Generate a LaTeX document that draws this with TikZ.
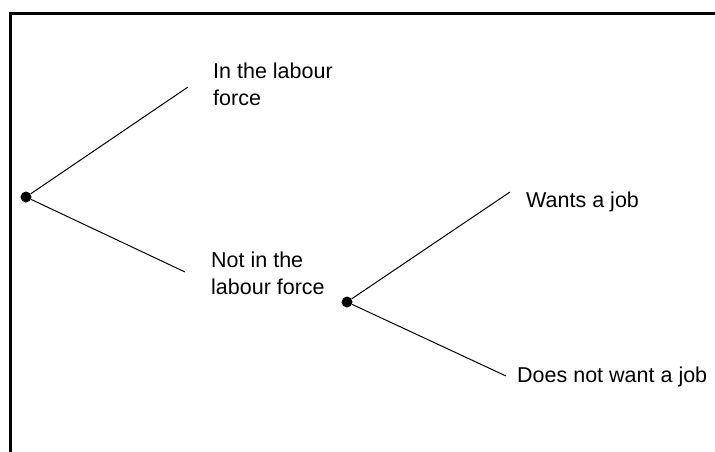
\documentclass[tikz,border=0pt]{standalone}
\usepackage{fontspec}
\setmainfont{Liberation Sans}
\begin{document}
\begin{tikzpicture}[x=1pt,y=-1pt,
  dotnode/.style={circle,fill=black,inner sep=0pt,minimum size=11pt},
  endpt/.style={inner sep=0pt,minimum size=0pt},
  branch/.style={line width=1pt},
  lbl/.style={inner sep=0pt,anchor=base west,align=left,font=\fontsize{21.5}{27}\selectfont},
  frame/.style={line width=3pt}]
\useasboundingbox (0,0) rectangle (715,452);
\coordinate (tl) at (10.5,13.5);
\coordinate (tr) at (715,13.5);
\coordinate (bl) at (10.5,452);
\draw[frame] (tr) -- (tl) -- (bl);
\node[dotnode] (d1) at (26,197) {};
\node[dotnode] (d2) at (347,302) {};
\node[endpt] (e1) at (188,87) {};
\node[endpt] (e2) at (185,272) {};
\node[endpt] (e3) at (510,192) {};
\node[endpt] (e4) at (506,376) {};
\draw[branch] (d1) -- (e1);
\draw[branch] (d1) -- (e2);
\draw[branch] (d2) -- (e3);
\draw[branch] (d2) -- (e4);
\node[lbl] (t1) at (213,105) {In the labour\\force};
\node[lbl] (t2) at (211,294) {Not in the\\labour force};
\node[lbl] (t3) at (526,207) {Wants a job};
\node[lbl] (t4) at (517,382) {Does not want a job};
\end{tikzpicture}
\end{document}
